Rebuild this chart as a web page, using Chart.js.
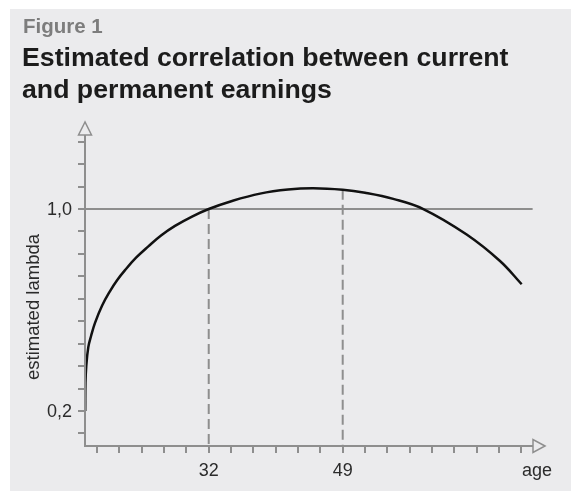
<!DOCTYPE html>
<html>
<head>
<meta charset="utf-8">
<script src="https://cdn.jsdelivr.net/npm/chart.js@4/dist/chart.umd.min.js"></script>
<style>
  html, body { margin: 0; padding: 0; background: #ffffff; }
  #lambda-wrap { width: 571px; height: 491px; }
</style>
</head>
<body>
<div id="lambda-wrap"><canvas id="lambda-chart" width="571" height="491"></canvas></div>
<script>
// curve: age vs estimated lambda
const ages    = [16.33, 16.36, 16.46, 16.72, 17.07, 17.57, 18.46, 19.48, 20.37, 21.38, 22.78, 24.34, 25.95, 27.72, 29.88, 32,
                 34.96, 38.51, 42.06, 45.27, 49, 51.83, 55.42, 59.23, 64.73, 68.96, 71.71];
const lambdas = [0.2, 0.311, 0.378, 0.453, 0.497, 0.549, 0.617, 0.675, 0.718, 0.758, 0.807, 0.852, 0.895, 0.933, 0.97, 1.0,
                 1.032, 1.061, 1.077, 1.082, 1.076, 1.064, 1.04, 1.0, 0.899, 0.794, 0.702];

const markedAges = [32, 49];
const xTickLabels = ["32", "49"];
const yTickValues = [0.2, 1.0];
const yTickLabels = ["0,2", "1,0"];
const referenceLevel = 1.0;

const figureLabel = "Figure 1";
const titleLines = ["Estimated correlation between current", "and permanent earnings"];
const xAxisTitle = "age";
const yAxisTitle = "estimated lambda";

const AXIS_GREY = "#8e8e8e";
const FONT = '"Liberation Sans", Arial, Helvetica, sans-serif';

// unlabelled minor ticks are spaced evenly between the labelled ones
const yStep = (yTickValues[1] - yTickValues[0]) / 9;
const xStep = (markedAges[1] - markedAges[0]) / 6;

function lambdaAt(age) {
  return lambdas[ages.indexOf(age)];
}

const curve = ages.map((a, i) => ({ x: a, y: lambdas[i] }));
const gridLine = [{ x: 16.3, y: referenceLevel }, { x: 73.1, y: referenceLevel }];
const dropLines = markedAges.map(a => [{ x: a, y: a === 32 ? referenceLevel : lambdaAt(a) }, { x: a, y: 0.0614 }]);

function openArrow(c, pts) {
  c.beginPath();
  c.moveTo(pts[0][0], pts[0][1]);
  c.lineTo(pts[1][0], pts[1][1]);
  c.lineTo(pts[2][0], pts[2][1]);
  c.closePath();
  c.fillStyle = "#ebebed";
  c.fill();
  c.stroke();
}

const lambdaFrame = {
  id: "lambdaFrame",
  beforeDraw(chart) {
    const c = chart.ctx;
    c.save();
    c.fillStyle = "#ffffff";
    c.fillRect(0, 0, chart.width, chart.height);
    c.fillStyle = "#ebebed";
    c.fillRect(10, 9, chart.width - 10, chart.height - 9);

    c.textBaseline = "alphabetic";
    c.textAlign = "left";
    c.fillStyle = "#7d7d7d";
    c.font = "bold 20.5px " + FONT;
    c.fillText(figureLabel, 23, 33);
    c.fillStyle = "#1c1c1c";
    c.font = "bold 26.7px " + FONT;
    titleLines.forEach((t, i) => c.fillText(t, 22, 66 + i * 32));
    c.restore();
  },
  afterDatasetsDraw(chart) {
    const c = chart.ctx;
    const xs = chart.scales.x, ys = chart.scales.y;
    const x0 = xs.getPixelForValue(xs.min);
    const y0 = ys.getPixelForValue(ys.min);
    const xEnd = xs.getPixelForValue(xs.max);
    const yEnd = ys.getPixelForValue(ys.max);

    c.save();
    c.strokeStyle = AXIS_GREY;
    c.lineWidth = 2;
    c.lineCap = "butt";

    // axis lines
    c.beginPath();
    c.moveTo(x0, y0 + 1);
    c.lineTo(x0, yEnd + 13);
    c.moveTo(x0 - 1, y0);
    c.lineTo(xEnd - 12, y0);
    c.stroke();

    // y ticks
    c.beginPath();
    for (let k = -1; k <= 12; k++) {
      const py = Math.round(ys.getPixelForValue(yTickValues[0] + k * yStep));
      c.moveTo(x0 - 7, py);
      c.lineTo(x0, py);
    }
    // x ticks
    for (let k = -5; k <= 14; k++) {
      const px = Math.round(xs.getPixelForValue(markedAges[0] + k * xStep));
      c.moveTo(px, y0);
      c.lineTo(px, y0 + 7);
    }
    c.stroke();

    // open arrow heads
    c.lineWidth = 1.5;
    openArrow(c, [[x0, yEnd], [x0 - 6.5, yEnd + 13], [x0 + 6.5, yEnd + 13]]);
    openArrow(c, [[xEnd, y0], [xEnd - 12, y0 - 6.5], [xEnd - 12, y0 + 6.5]]);

    // labels
    c.fillStyle = "#2b2b2b";
    c.font = "18px " + FONT;
    c.textAlign = "right";
    c.textBaseline = "middle";
    yTickValues.forEach((v, i) => c.fillText(yTickLabels[i], 72, ys.getPixelForValue(v) + 1));

    c.textAlign = "center";
    c.textBaseline = "alphabetic";
    markedAges.forEach((a, i) => c.fillText(xTickLabels[i], xs.getPixelForValue(a), 476));
    c.fillText(xAxisTitle, 537, 476);

    c.font = "18.5px " + FONT;
    c.translate(39, 307);
    c.rotate(-Math.PI / 2);
    c.fillText(yAxisTitle, 0, 0);
    c.restore();
  }
};

new Chart(document.getElementById("lambda-chart").getContext("2d"), {
  type: "scatter",
  data: {
    datasets: [
      {
        data: curve,
        showLine: true,
        borderColor: "#111111",
        borderWidth: 2.5,
        pointRadius: 0,
        tension: 0.4,
        fill: false
      },
      {
        data: gridLine,
        showLine: true,
        borderColor: AXIS_GREY,
        borderWidth: 2,
        pointRadius: 0
      },
      ...dropLines.map(d => ({
        data: d,
        showLine: true,
        borderColor: AXIS_GREY,
        borderWidth: 2,
        borderDash: [10, 5],
        pointRadius: 0
      }))
    ]
  },
  options: {
    responsive: false,
    animation: false,
    devicePixelRatio: 1,
    layout: { padding: { left: 85, top: 122, right: 26, bottom: 45 } },
    plugins: { legend: { display: false }, tooltip: { enabled: false } },
    scales: {
      x: { type: "linear", min: 16.3, max: 74.67, display: false },
      y: { type: "linear", min: 0.0614, max: 1.3446, display: false }
    }
  },
  plugins: [lambdaFrame]
});
</script>
</body>
</html>
